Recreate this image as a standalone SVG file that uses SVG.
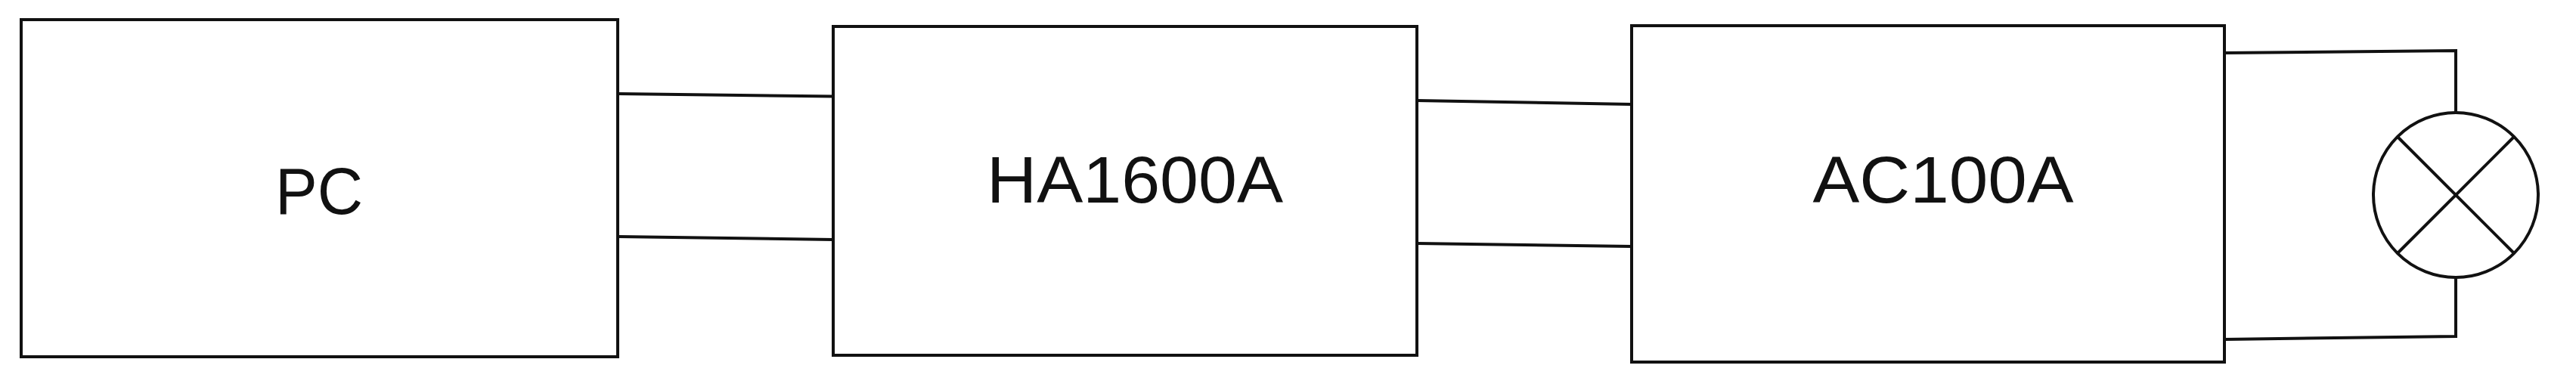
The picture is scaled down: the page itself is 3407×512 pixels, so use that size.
<svg xmlns="http://www.w3.org/2000/svg" width="3407" height="512" viewBox="0 0 3407 512">
<style>
.box{fill:#fff;stroke:#111;stroke-width:4}
.w{fill:none;stroke:#111;stroke-width:4}
.t{font-family:"Liberation Sans",Arial,sans-serif;font-size:88px;fill:#111;text-anchor:middle}
</style>
<rect width="3407" height="512" fill="#fff"/>
<g id="pc"><rect class="box" x="28" y="26" width="789" height="446"/><text class="t" x="422" y="283" textLength="116" lengthAdjust="spacingAndGlyphs">PC</text></g>
<g id="ha1600a"><rect class="box" x="1102" y="35" width="772" height="435"/><text class="t" x="1501" y="268" textLength="392" lengthAdjust="spacingAndGlyphs">HA1600A</text></g>
<g id="ac100a"><rect class="box" x="2158" y="34" width="784" height="445"/><text class="t" x="2570" y="268" textLength="345" lengthAdjust="spacingAndGlyphs">AC100A</text></g>
<g id="lamp"><circle class="w" cx="3248" cy="258" r="109"/><line class="w" x1="3171" y1="181" x2="3325" y2="335" stroke-width="3"/><line class="w" x1="3325" y1="181" x2="3171" y2="335" stroke-width="3"/></g>
<g id="connectors">
<line class="w" x1="817" y1="124" x2="1102" y2="127.5"/>
<line class="w" x1="817" y1="313" x2="1102" y2="317"/>
<line class="w" x1="1874" y1="133" x2="2158" y2="138"/>
<line class="w" x1="1874" y1="322" x2="2158" y2="326"/>
<polyline class="w" points="2942,70 3248,67 3248,149"/>
<polyline class="w" points="3248,367 3248,445 2942,449"/>
</g>
</svg>
